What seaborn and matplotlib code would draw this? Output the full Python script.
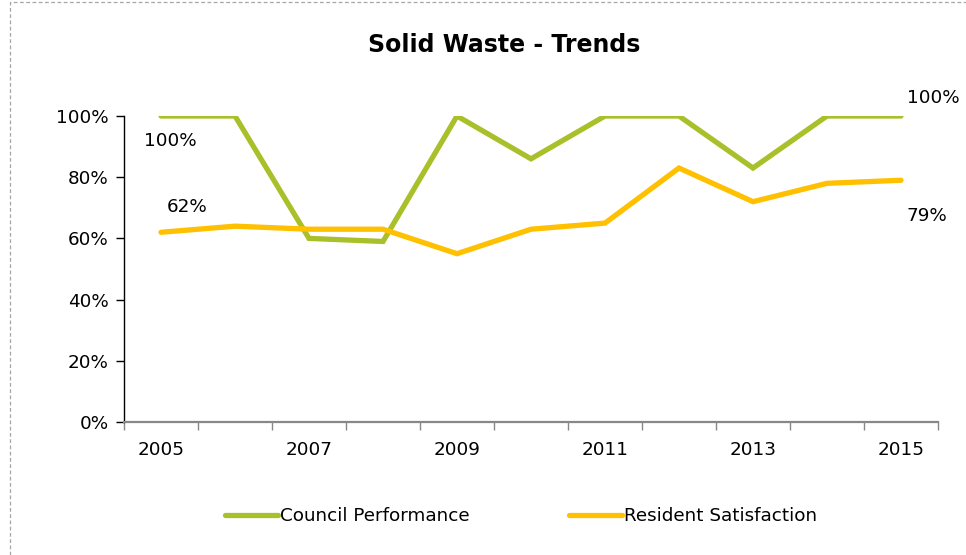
import pandas as pd
import matplotlib.pyplot as plt
import matplotlib.ticker as mticker
from matplotlib.patches import Rectangle
import seaborn as sns

# Data
years = [2005, 2006, 2007, 2008, 2009, 2010, 2011, 2012, 2013, 2014, 2015]
council = [1.00, 1.00, 0.60, 0.59, 1.00, 0.86, 1.00, 1.00, 0.83, 1.00, 1.00]
resident = [0.62, 0.64, 0.63, 0.63, 0.55, 0.63, 0.65, 0.83, 0.72, 0.78, 0.79]
series_names = ['Council Performance', 'Resident Satisfaction']
colors = ['#A9C02A', '#FFC000']

df = pd.DataFrame({
    'year': years * 2,
    'value': council + resident,
    'series': [series_names[0]] * len(years) + [series_names[1]] * len(years),
})

sns.set_style('white')
plt.rcParams['font.family'] = ['DejaVu Sans']
plt.rcParams['text.color'] = 'black'
plt.rcParams['xtick.color'] = 'black'
plt.rcParams['ytick.color'] = 'black'

fs = 13.2

fig = plt.figure(figsize=(9.66, 5.55), dpi=100)
ax = fig.add_axes([124 / 966, 1 - 422 / 555, (938 - 124) / 966, (422 - 116) / 555])

sns.lineplot(data=df, x='year', y='value', hue='series', palette=colors,
             linewidth=3.8, ax=ax, legend=False)
for line in ax.lines:
    line.set_solid_capstyle('round')
    line.set_solid_joinstyle('miter')

ax.set_xlim(2004.5, 2015.5)
ax.set_ylim(0, 1)
ax.set_xlabel('')
ax.set_ylabel('')

ax.yaxis.set_major_locator(mticker.MultipleLocator(0.2))
ax.yaxis.set_major_formatter(mticker.PercentFormatter(1.0, decimals=0))
ax.xaxis.set_major_locator(mticker.FixedLocator(years[::2]))
ax.xaxis.set_major_formatter(mticker.FormatStrFormatter('%d'))
ax.xaxis.set_minor_locator(mticker.FixedLocator([y - 0.5 for y in years] + [years[-1] + 0.5]))
ax.tick_params(axis='x', which='major', length=0, pad=14, labelsize=fs)
ax.tick_params(axis='x', which='minor', length=6, width=1, color='#888888', direction='out', bottom=True)
ax.tick_params(axis='y', which='major', length=6, width=1, color='black', direction='out', left=True,
               labelsize=fs, pad=5)

for s in ['top', 'right']:
    ax.spines[s].set_visible(False)
ax.spines['left'].set_color('black')
ax.spines['left'].set_linewidth(1)
ax.spines['bottom'].set_color('#888888')
ax.spines['bottom'].set_linewidth(1.6)

# data labels on the first and last points
ax.annotate('100%', (years[0], council[0]), xytext=(-12, -18), textcoords='offset points',
            fontsize=fs, ha='left', va='center')
ax.annotate('62%', (years[0], resident[0]), xytext=(4, 18), textcoords='offset points',
            fontsize=fs, ha='left', va='center')
ax.annotate('100%', (years[-1], council[-1]), xytext=(4, 13), textcoords='offset points',
            fontsize=fs, ha='left', va='center')
ax.annotate('79%', (years[-1], resident[-1]), xytext=(4, -26), textcoords='offset points',
            fontsize=fs, ha='left', va='center')

fig.text(504 / 966, 1 - 45 / 555, 'Solid Waste - Trends', ha='center', va='center',
         fontsize=17, fontweight='bold')

handles = [plt.Line2D([], [], color=c, linewidth=3.8) for c in colors]
fig.legend(handles, series_names, loc='center', bbox_to_anchor=(521 / 966, 1 - 516 / 555),
           ncol=2, frameon=False, fontsize=fs, handlelength=2.9, handletextpad=0.1,
           columnspacing=5.4)

# dashed chart-area border
fig.patches.append(Rectangle((10 / 966, -0.1), 1.2, 1 - 2 / 555 + 0.1, transform=fig.transFigure,
                             fill=False, edgecolor='#A6A6A6', linestyle=(0, (3, 2)), linewidth=0.9))

fig.savefig('out.png', dpi=100)
